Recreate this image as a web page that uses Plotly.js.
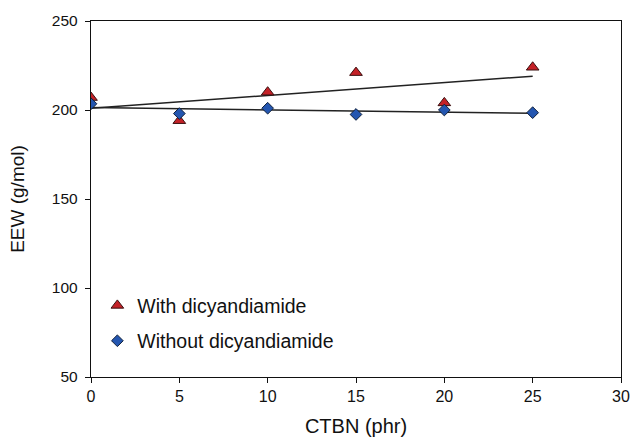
<!DOCTYPE html>
<html>
<head>
<meta charset="utf-8">
<script src="https://cdn.plot.ly/plotly-3.0.1.min.js"></script>
<style>html,body{margin:0;padding:0;background:#fff;}#chart{width:633px;height:440px;}</style>
</head>
<body>
<div id="chart"></div>
<script>
const ctbn = [0, 5, 10, 15, 20, 25];
const withDicy = [207, 194, 210, 221, 204, 224];
const withoutDicy = [203.5, 198, 201, 197.5, 200, 198.5];
const seriesNames = ["With dicyandiamide", "Without dicyandiamide"];
const xTicks = [0, 5, 10, 15, 20, 25, 30];
const yTicks = [50, 100, 150, 200, 250];

function fit(x, y) {
  const n = x.length;
  const mx = x.reduce((a, b) => a + b, 0) / n;
  const my = y.reduce((a, b) => a + b, 0) / n;
  let sxy = 0, sxx = 0;
  for (let i = 0; i < n; i++) { sxy += (x[i] - mx) * (y[i] - my); sxx += (x[i] - mx) ** 2; }
  const m = sxy / sxx, b = my - m * mx;
  const xs = [x[0], x[n - 1]];
  return {x: xs, y: xs.map(v => m * v + b)};
}
const f1 = fit(ctbn, withDicy), f2 = fit(ctbn, withoutDicy);
const FONT = "Arial, 'Liberation Sans', sans-serif";

const traces = [
  {x: f1.x, y: f1.y, mode: "lines", line: {color: "#222", width: 1.5}, showlegend: false, hoverinfo: "skip"},
  {x: f2.x, y: f2.y, mode: "lines", line: {color: "#222", width: 1.5}, showlegend: false, hoverinfo: "skip"},
  {x: ctbn, y: withDicy, mode: "markers", name: seriesNames[0], legendgroup: "a",
   marker: {symbol: "triangle-up", size: 11, color: "#c42127", line: {color: "#3a1010", width: 1}}},
  {x: ctbn, y: withoutDicy, mode: "markers", name: seriesNames[1], legendgroup: "b",
   marker: {symbol: "diamond", size: 9, color: "#2456b0", line: {color: "#10203a", width: 1}}}
];

const layout = {
  width: 633, height: 440,
  margin: {l: 91, r: 12, t: 21, b: 63},
  paper_bgcolor: "#fff", plot_bgcolor: "#fff",
  font: {family: FONT, color: "#111", size: 15},
  xaxis: {range: [0, 30], tickvals: xTicks, ticks: "outside", ticklen: 5, tickcolor: "#111",
          showline: true, linecolor: "#111", linewidth: 1.2, mirror: true, showgrid: false, zeroline: false,
          tickfont: {size: 16}, title: {text: "CTBN (phr)", font: {size: 20}, standoff: 14}},
  yaxis: {range: [50, 250], tickvals: yTicks, ticks: "outside", ticklen: 5, tickcolor: "#111",
          showline: true, linecolor: "#111", linewidth: 1.2, mirror: true, showgrid: false, zeroline: false,
          ticklabelstandoff: 4,
          tickfont: {size: 15.5}, title: {text: "EEW (g/mol)", font: {size: 19}, standoff: 22}},
  showlegend: true,
  legend: {x: 0.012, y: 0.255, xanchor: "left", yanchor: "top", bgcolor: "rgba(0,0,0,0)",
           font: {size: 19.5, family: FONT}, tracegroupgap: 7, traceorder: "grouped"}
};

Plotly.newPlot("chart", traces, layout, {staticPlot: true, displayModeBar: false});
</script>
</body>
</html>
